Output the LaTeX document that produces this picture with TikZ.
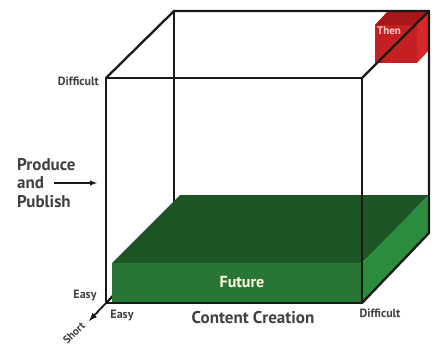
\documentclass[tikz,border=0pt]{standalone}
\usepackage{fontspec}
\setmainfont{PT Sans}
\usepackage{tikz}
\usepackage{xcolor}

\definecolor{slabfront}{RGB}{40,118,52}
\definecolor{slabtop}{RGB}{28,86,38}
\definecolor{slabside}{RGB}{44,140,62}
\definecolor{redfront}{RGB}{196,32,34}
\definecolor{redtop}{RGB}{168,22,26}
\definecolor{redside}{RGB}{214,40,42}

\begin{document}
\begin{tikzpicture}[x=1pt, y=-1pt]

\tikzstyle{every node} = [inner sep=0pt, text=black!75]
\tikzstyle{small} = [font=\fontsize{12}{13}\selectfont\bfseries]
\tikzstyle{big} = [font=\fontsize{17}{18.5}\selectfont\bfseries]
\tikzstyle{edge} = [line width=2.3pt, black!90, line join=round, line cap=round]

\useasboundingbox (0,0) rectangle (438,349);

% cube corners
\coordinate (fa) at (106,78);
\coordinate (fb) at (362,78);
\coordinate (fc) at (362,303);
\coordinate (fd) at (106,303);
\coordinate (ba) at (174,11);
\coordinate (bb) at (429,11);
\coordinate (bc) at (429,233);
\coordinate (bd) at (174,233);

\draw[edge] (ba) -- (bd) -- (bc);
\draw[edge] (fd) -- (bd);

% green slab
\fill[slabtop] (112,263) -- (180,195) -- (429,195) -- (362,263) -- cycle;
\fill[slabside] (362,263) -- (429,195) -- (429,233) -- (362,303) -- cycle;
\fill[slabfront] (112,263) rectangle (362,303);
\node[text=white!88!yellow, font=\fontsize{16}{18}\selectfont\bfseries] (fu) at (242,282) {Future};

% red cube
\fill[redtop] (375,25) -- (387,12) -- (429,12) -- (417,25) -- cycle;
\fill[redside] (417,25) -- (429,12) -- (429,50) -- (417,63) -- cycle;
\fill[redfront] (375,25) rectangle (417,63);
\node[text=red!20, font=\fontsize{11}{12}\selectfont\bfseries] (th) at (389,31) {Then};

\draw[edge] (fa) -- (fb) -- (fc) -- (fd) -- cycle;
\draw[edge] (fa) -- (ba) -- (bb) -- (bc);
\draw[edge] (fb) -- (bb);
\draw[edge] (fc) -- (bc);

\node[small, anchor=east] (dy) at (99,81) {Difficult};
\node[small] (ey) at (85,296) {Easy};
\node[small] (ex) at (122,316) {Easy};
\node[small] (dx) at (380,313) {Difficult};
\node[big] (cc) at (253,318) {Content Creation};
\node[big, anchor=west, align=left] (pp) at (17,183) {Produce\\and\\Publish};
\node[small, font=\fontsize{11}{12}\selectfont\bfseries, rotate=45] (sh) at (74,333) {Short};

\coordinate (pa) at (54,183);
\coordinate (pb) at (97,183);
\coordinate (sa) at (89,321);

\draw[line width=1.4pt, black!90, -latex] (pa) -- (pb);
\draw[line width=1.8pt, black!90, -latex] (fd) -- (sa);

\end{tikzpicture}
\end{document}
